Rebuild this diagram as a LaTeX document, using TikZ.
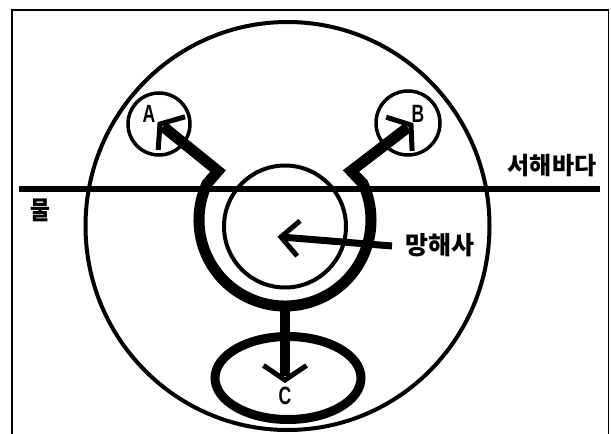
\documentclass[tikz,border=0pt]{standalone}
\usepackage{fontspec}
\setmainfont{Liberation Sans}
\newfontfamily\kr{Noto Sans CJK KR}
\usetikzlibrary{shapes.geometric,calc}
\begin{document}
\begin{tikzpicture}[x=1pt,y=-1pt,
  ring/.style={draw,circle,inner sep=0pt,line width=#1},
  oval/.style={draw,ellipse,inner sep=0pt},
  shaft/.style={line width=#1,line cap=butt,line join=miter},
  barb/.style={line width=5pt,line cap=butt,line join=miter},
  krlabel/.style={font=\kr\bfseries\fontsize{24}{24}\selectfont,inner sep=0pt},
  latlabel/.style={font=\bfseries\fontsize{25}{25}\selectfont,inner sep=0pt,xscale=0.7}]
\useasboundingbox (0,0) rectangle (611,434);
% frame
\coordinate (f1) at (12,434); \coordinate (f2) at (12,10);
\coordinate (f3) at (608.5,10); \coordinate (f4) at (608.5,434);
\draw[line width=1.3pt] (f1) -- (f2) -- (f3) -- (f4);
% big circle
\node[oval,line width=4pt,minimum width=404pt,minimum height=408pt] (world) at (287.5,226) {};
% horizontal line
\coordinate (h1) at (19,189); \coordinate (h2) at (600,189);
\draw[line width=5.5pt] (h1) -- (h2);
% inner circle
\node[ring=4pt,minimum size=122pt] (nave) at (285,226.5) {};
% small circles
\node[ring=3.5pt,minimum size=62pt] (cA) at (159,124) {};
\node[ring=3.5pt,minimum size=64pt] (cB) at (408,123) {};
% C ellipse
\node[oval,line width=9pt,minimum width=146pt,minimum height=83pt] (cC) at (288,378) {};
% labels
\node[krlabel] (sea) at (552,166) {서해바다};
\node[krlabel,yscale=1.05,xscale=0.9] (land) at (40,210) {물};
\node[krlabel,font=\kr\bfseries\fontsize{25}{25}\selectfont] (temple) at (440,245) {망해사};
\node[latlabel] (lA) at (149,114) {A};
\node[latlabel] (lB) at (418,114) {B};
\node[latlabel] (lC) at (285,396) {C};
% U shaped path with arrows to A and B
\coordinate (tipA) at (160,124);
\coordinate (tipB) at (411,125);
\coordinate (cornerL) at (218,171);
\coordinate (cornerR) at (351,171);
\coordinate (arcL) at (207.06,183.66);
\draw[shaft=11pt] ($(tipA)!4pt!(cornerL)$) -- (cornerL) -- (arcL)
  arc[start angle=205,end angle=-25,radius=86] -- (cornerR) -- ($(tipB)!4pt!(cornerR)$);
\draw[barb] ($(tipA)!26pt!55:(cornerL)$) -- (tipA) -- ($(tipA)!26pt!-55:(cornerL)$);
\draw[barb] ($(tipB)!26pt!55:(cornerR)$) -- (tipB) -- ($(tipB)!26pt!-55:(cornerR)$);
% arrow to C
\coordinate (ubot) at (285,304);
\coordinate (tipC) at (285,380);
\draw[shaft=10pt] (ubot) -- ($(tipC)!4pt!(ubot)$);
\draw[barb] ($(tipC)!26pt!56:(ubot)$) -- (tipC) -- ($(tipC)!26pt!-56:(ubot)$);
% arrow from temple label to centre
\coordinate (mstart) at (392,246);
\coordinate (tipM) at (281,237);
\draw[shaft=7pt] (mstart) -- ($(tipM)!3pt!(mstart)$);
\draw[barb] ($(tipM)!25pt!45:(mstart)$) -- (tipM) -- ($(tipM)!25pt!-45:(mstart)$);
\end{tikzpicture}
\end{document}
